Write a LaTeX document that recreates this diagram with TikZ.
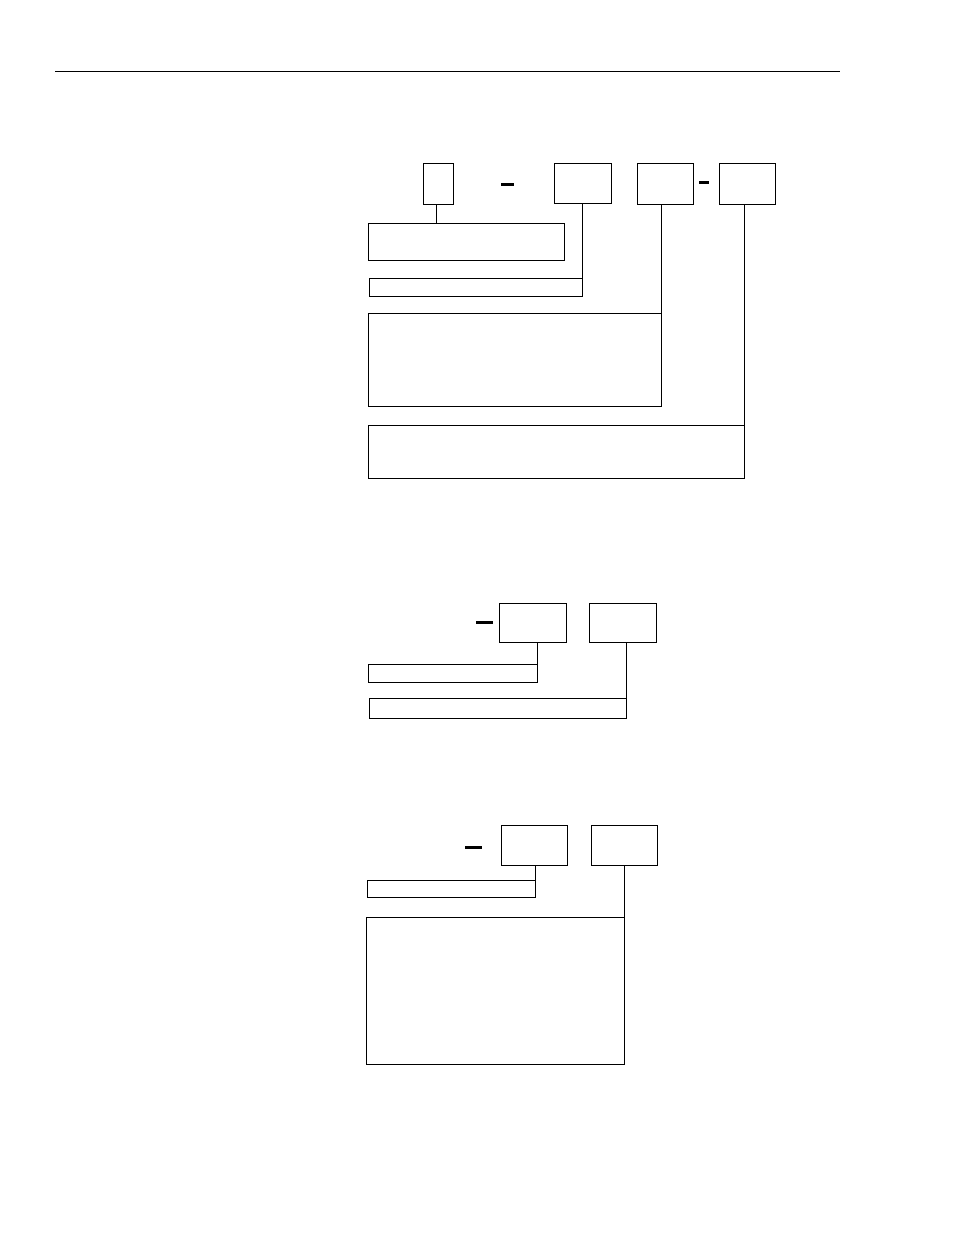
\documentclass[tikz,border=0pt]{standalone}
\usetikzlibrary{positioning}

\begin{document}
\begin{tikzpicture}[x=1pt, y=-1pt, line width=0.9pt,
        field/.style={draw, rectangle, inner sep=0pt, outer sep=0pt},
        hyph/.style={fill, rectangle, inner sep=0pt, minimum height=3pt}]
    \useasboundingbox (0,0) rectangle (954,1235);
    % rule at top of page
    \coordinate (rl) at (55,71);
    \coordinate (rr) at (840,71);
    \draw (rl) -- (rr);

    % first code
    \node[field, minimum width=30pt, minimum height=41pt] (A) at (438,183.5) {};
    \node[hyph, minimum width=13pt] (h1) at (507.5,184) {};
    \node[field, minimum width=57pt, minimum height=40pt] (B) at (582.5,183) {};
    \node[field, minimum width=56pt, minimum height=41pt] (C) at (665,183.5) {};
    \node[hyph, minimum width=10pt] (h2) at (704,182) {};
    \node[field, minimum width=56pt, minimum height=41pt] (D) at (747,183.5) {};

    \node[field, minimum width=196pt, minimum height=37pt] (L1) at (466,241.5) {};
    \node[field, minimum width=213pt, minimum height=18pt] (L2) at (475.5,287) {};
    \node[field, minimum width=293pt, minimum height=93pt] (L3) at (514.5,359.5) {};
    \node[field, minimum width=376pt, minimum height=53pt] (L4) at (556,451.5) {};

    \draw (A.south -| 436,0) -- (436,0 |- L1.north);
    \draw (L2.south east) -- (L2.south east |- B.south);
    \draw (L3.south east) -- (L3.south east |- C.south);
    \draw (L4.south east) -- (L4.south east |- D.south);

    % second code
    \node[hyph, minimum width=17pt] (h3) at (484.5,622) {};
    \node[field, minimum width=67pt, minimum height=39pt] (E) at (532.5,622.5) {};
    \node[field, minimum width=67pt, minimum height=39pt] (F) at (622.5,622.5) {};
    \node[field, minimum width=169pt, minimum height=18pt] (L5) at (452.5,673) {};
    \node[field, minimum width=257pt, minimum height=20pt] (L6) at (497.5,708) {};

    \draw (L5.south east) -- (L5.south east |- E.south);
    \draw (L6.south east) -- (L6.south east |- F.south);

    % third code
    \node[hyph, minimum width=17pt] (h4) at (473.5,847) {};
    \node[field, minimum width=66pt, minimum height=40pt] (G) at (534,845) {};
    \node[field, minimum width=66pt, minimum height=40pt] (H) at (624,845) {};
    \node[field, minimum width=168pt, minimum height=17pt] (L7) at (451,888.5) {};
    \node[field, minimum width=258pt, minimum height=147pt] (L8) at (495,990.5) {};

    \draw (L7.south east) -- (L7.south east |- G.south);
    \draw (L8.south east) -- (L8.south east |- H.south);
\end{tikzpicture}
\end{document}
